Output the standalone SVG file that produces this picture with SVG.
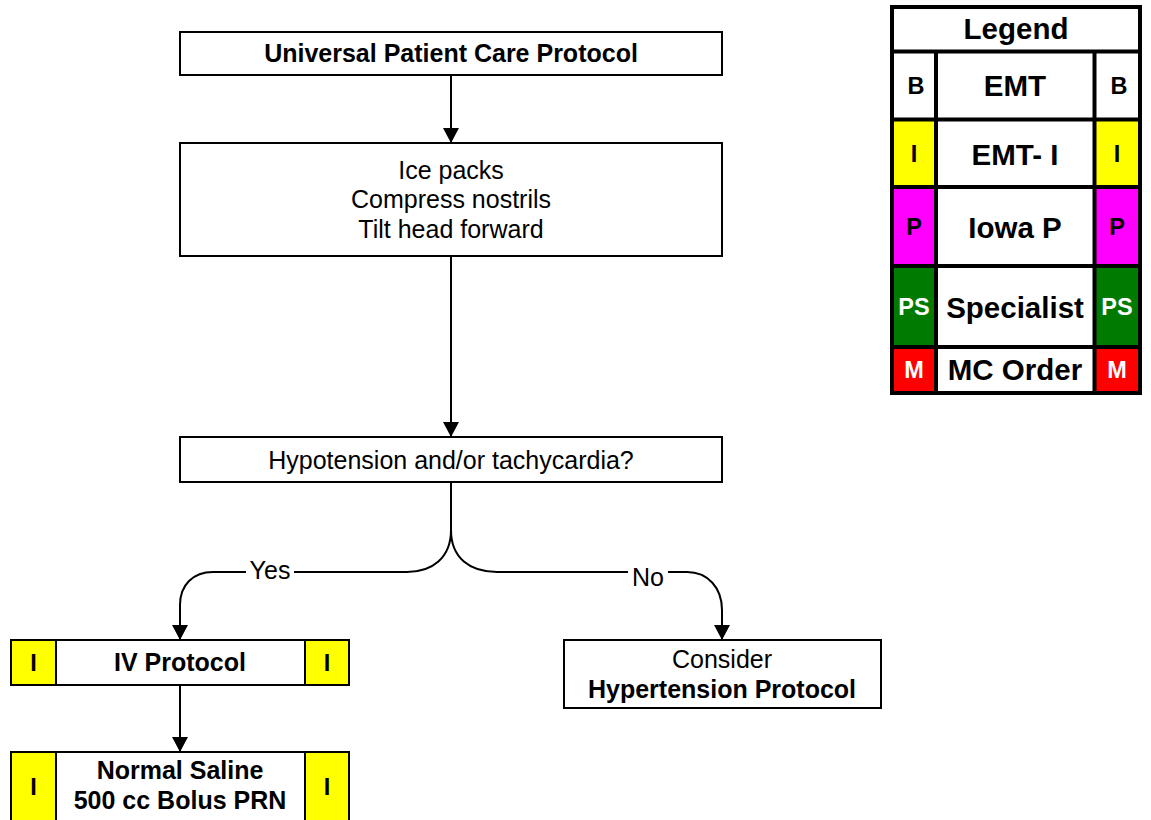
<svg xmlns="http://www.w3.org/2000/svg" width="1151" height="820" viewBox="0 0 1151 820">
<defs>
<marker id="arr" viewBox="0 0 15 16" refX="15" refY="8" markerWidth="15" markerHeight="16" markerUnits="userSpaceOnUse" orient="auto">
<path d="M0,0 L15,8 L0,16 Z" fill="#000"/>
</marker>
<style>
.box{fill:#fff;stroke:#000;stroke-width:2}
.yel{fill:#ffff00;stroke:#000;stroke-width:2}
.t{font-family:"Liberation Sans",Arial,sans-serif;font-size:25px;fill:#000;text-anchor:middle}
.b{font-weight:bold}
.c{fill:none;stroke:#000;stroke-width:2}
.lg{font-family:"Liberation Sans",Arial,sans-serif;font-size:29.5px;font-weight:bold;text-anchor:middle;fill:#000}
.ls{font-family:"Liberation Sans",Arial,sans-serif;font-size:23.5px;font-weight:bold;text-anchor:middle;fill:#000}
.lbl{font-family:"Liberation Sans",Arial,sans-serif;font-size:25px;text-anchor:middle;fill:#000}
.grid{stroke:#000;stroke-width:4;fill:none}
</style>
</defs>
<rect width="1151" height="820" fill="#fff"/>

<g id="connectors">
<path class="c" d="M451,75 V143" marker-end="url(#arr)"/>
<path class="c" d="M451,256 V437" marker-end="url(#arr)"/>
<path class="c" d="M451,482 V530 C451,558 432,572 407,572 H213 C193,572 180,585 180,605 V640" marker-end="url(#arr)"/>
<path class="c" d="M451,482 V530 C451,558 470,572 497,572 H687 C708,572 722,588 722,610 V640" marker-end="url(#arr)"/>
<path class="c" d="M180,685 V752" marker-end="url(#arr)"/>
<rect x="246" y="558" width="48" height="26" fill="#fff"/>
<text class="lbl" x="270" y="579">Yes</text>
<rect x="628" y="562" width="40" height="26" fill="#fff"/>
<text class="lbl" x="648" y="586">No</text>
</g>

<g id="n-upcp">
<rect class="box" x="180" y="32" width="542" height="43"/>
<text class="t b" x="451" y="62">Universal Patient Care Protocol</text>
</g>

<g id="n-ice">
<rect class="box" x="180" y="143" width="542" height="113"/>
<text class="t" x="451" y="179">Ice packs</text>
<text class="t" x="451" y="208">Compress nostrils</text>
<text class="t" x="451" y="238">Tilt head forward</text>
</g>

<g id="n-hypo">
<rect class="box" x="180" y="437" width="542" height="45"/>
<text class="t" x="451" y="469">Hypotension and/or tachycardia?</text>
</g>

<g id="n-iv">
<rect class="box" x="11" y="640" width="338" height="45"/>
<rect class="yel" x="11" y="640" width="45" height="45"/>
<rect class="yel" x="305" y="640" width="44" height="45"/>
<text class="ls" x="33.5" y="671">I</text>
<text class="ls" x="327" y="671">I</text>
<text class="t b" x="180" y="671">IV Protocol</text>
</g>

<g id="n-ns">
<rect class="box" x="11" y="752" width="338" height="80"/>
<rect class="yel" x="11" y="752" width="45" height="80"/>
<rect class="yel" x="305" y="752" width="44" height="80"/>
<text class="ls" x="33.5" y="795">I</text>
<text class="ls" x="327" y="795">I</text>
<text class="t b" x="180" y="779">Normal Saline</text>
<text class="t b" x="180" y="809">500 cc Bolus PRN</text>
</g>

<g id="n-hyper">
<rect class="box" x="564" y="640" width="317" height="68"/>
<text class="t" x="722" y="668">Consider</text>
<text class="t b" x="722" y="698">Hypertension Protocol</text>
</g>

<g id="legend">
<rect x="892" y="7" width="248" height="386" fill="#fff"/>
<rect x="892" y="119.5" width="44" height="67.5" fill="#ffff00"/>
<rect x="1094.5" y="119.5" width="45.5" height="67.5" fill="#ffff00"/>
<rect x="892" y="187" width="44" height="79" fill="#ff00ff"/>
<rect x="1094.5" y="187" width="45.5" height="79" fill="#ff00ff"/>
<rect x="892" y="266" width="44" height="81" fill="#007a00"/>
<rect x="1094.5" y="266" width="45.5" height="81" fill="#007a00"/>
<rect x="892" y="347" width="44" height="46" fill="#ff0000"/>
<rect x="1094.5" y="347" width="45.5" height="46" fill="#ff0000"/>
<rect class="grid" x="892" y="7" width="248" height="386"/>
<path class="grid" d="M892,51.5 H1140 M892,119.5 H1140 M892,187 H1140 M892,266 H1140 M892,347 H1140 M936,51.5 V393 M1094.5,51.5 V393"/>
<text class="lg" x="1016" y="39">Legend</text>
<text class="lg" x="1015" y="96">EMT</text>
<text class="lg" x="1015" y="165">EMT- I</text>
<text class="lg" x="1015" y="238">Iowa P</text>
<text class="lg" x="1015" y="318">Specialist</text>
<text class="lg" x="1015" y="380">MC Order</text>
<text class="ls" x="916" y="94">B</text>
<text class="ls" x="1119" y="94">B</text>
<text class="ls" x="914" y="162">I</text>
<text class="ls" x="1117" y="162">I</text>
<text class="ls" x="914" y="235">P</text>
<text class="ls" x="1117" y="235">P</text>
<text class="ls" x="914" y="315" style="fill:#fff">PS</text>
<text class="ls" x="1117" y="315" style="fill:#fff">PS</text>
<text class="ls" x="914" y="378" style="fill:#fff">M</text>
<text class="ls" x="1117" y="378" style="fill:#fff">M</text>
</g>
</svg>
